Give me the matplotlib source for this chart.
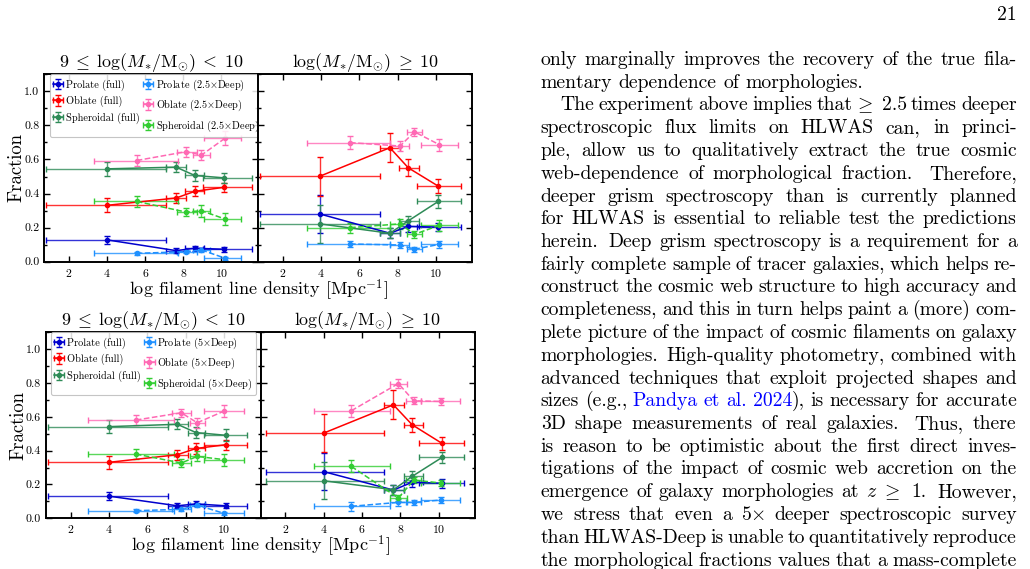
import re
import matplotlib
matplotlib.use('Agg')
import matplotlib.pyplot as plt
from matplotlib.ticker import MultipleLocator

plt.rcParams.update({
    'font.family': 'cmr10',
    'mathtext.fontset': 'cm',
    'axes.formatter.use_mathtext': True,
    'axes.unicode_minus': False,
})

# ---------------- data ----------------
# top-left : 9 <= log M < 10, 2.5x Deep
tl_x_full = [4.0, 7.62, 8.6, 10.15]
tl_xlo_full = [0.8, 7.1, 8.1, 9.05]
tl_xhi_full = [7.1, 8.15, 9.1, 11.6]
tl_prolate_full = [0.128, 0.065, 0.079, 0.073]
tl_prolate_full_err = [0.025, 0.015, 0.015, 0.015]
tl_oblate_full = [0.331, 0.374, 0.413, 0.437]
tl_oblate_full_err = [0.04, 0.03, 0.03, 0.025]
tl_spher_full = [0.545, 0.555, 0.506, 0.492]
tl_spher_full_err = [0.04, 0.03, 0.03, 0.03]
tl_x_deep = [5.55, 8.15, 8.95, 10.2]
tl_xlo_deep = [3.3, 7.65, 8.5, 9.1]
tl_xhi_deep = [7.7, 8.7, 9.4, 11.0]
tl_prolate_deep = [0.049, 0.059, 0.069, 0.02]
tl_prolate_deep_err = [0.01, 0.01, 0.012, 0.01]
tl_oblate_deep = [0.594, 0.646, 0.626, 0.726]
tl_oblate_deep_err = [0.03, 0.03, 0.03, 0.04]
tl_spher_deep = [0.354, 0.291, 0.299, 0.25]
tl_spher_deep_err = [0.03, 0.025, 0.035, 0.035]

# top-right : log M >= 10, 2.5x Deep
tr_x_full = [3.95, 7.6, 8.56, 10.13]
tr_xlo_full = [0.83, 7.1, 8.1, 9.0]
tr_xhi_full = [7.1, 8.15, 9.1, 11.3]
tr_prolate_full = [0.28, 0.167, 0.207, 0.203]
tr_prolate_full_err = [0.11, 0.03, 0.03, 0.025]
tr_oblate_full = [0.502, 0.669, 0.551, 0.443]
tr_oblate_full_err = [0.115, 0.085, 0.05, 0.04]
tr_spher_full = [0.222, 0.167, 0.24, 0.354]
tr_spher_full_err = [0.11, 0.03, 0.03, 0.04]
tr_x_deep = [5.52, 8.13, 8.88, 10.18]
tr_xlo_deep = [3.27, 7.6, 8.5, 9.2]
tr_xhi_deep = [7.62, 8.6, 9.25, 11.15]
tr_prolate_deep = [0.104, 0.098, 0.073, 0.102]
tr_prolate_deep_err = [0.02, 0.02, 0.015, 0.02]
tr_oblate_deep = [0.699, 0.679, 0.762, 0.687]
tr_oblate_deep_err = [0.04, 0.03, 0.025, 0.035]
tr_spher_deep = [0.2, 0.222, 0.161, 0.213]
tr_spher_deep_err = [0.03, 0.03, 0.02, 0.03]

# bottom-left : 9 <= log M < 10, 5x Deep
bl_x_full = [4.0, 7.56, 8.54, 10.08]
bl_xlo_full = [0.83, 7.08, 8.1, 8.97]
bl_xhi_full = [7.08, 8.1, 9.0, 11.19]
bl_prolate_full = [0.131, 0.074, 0.085, 0.074]
bl_prolate_full_err = [0.025, 0.015, 0.015, 0.015]
bl_oblate_full = [0.331, 0.376, 0.413, 0.435]
bl_oblate_full_err = [0.04, 0.03, 0.03, 0.03]
bl_spher_full = [0.542, 0.556, 0.507, 0.491]
bl_spher_full_err = [0.04, 0.03, 0.03, 0.035]
bl_x_deep = [5.4, 7.77, 8.6, 10.0]
bl_xlo_deep = [2.89, 7.3, 8.2, 8.97]
bl_xhi_deep = [7.39, 8.3, 9.0, 11.02]
bl_prolate_deep = [0.045, 0.053, 0.078, 0.029]
bl_prolate_deep_err = [0.01, 0.01, 0.012, 0.01]
bl_oblate_deep = [0.581, 0.624, 0.565, 0.634]
bl_oblate_deep_err = [0.03, 0.025, 0.03, 0.035]
bl_spher_deep = [0.38, 0.327, 0.366, 0.347]
bl_spher_deep_err = [0.03, 0.025, 0.03, 0.035]

# bottom-right : log M >= 10, 5x Deep
br_x_full = [4.0, 7.64, 8.62, 10.18]
br_xlo_full = [0.97, 7.17, 8.2, 9.0]
br_xhi_full = [7.17, 8.2, 9.2, 11.3]
br_prolate_full = [0.276, 0.167, 0.213, 0.207]
br_prolate_full_err = [0.11, 0.03, 0.03, 0.025]
br_oblate_full = [0.504, 0.671, 0.553, 0.443]
br_oblate_full_err = [0.113, 0.085, 0.04, 0.04]
br_spher_full = [0.222, 0.169, 0.248, 0.36]
br_spher_full_err = [0.11, 0.03, 0.03, 0.035]
br_x_deep = [5.44, 7.9, 8.7, 10.1]
br_xlo_deep = [3.48, 7.46, 8.3, 9.1]
br_xhi_deep = [7.46, 8.33, 9.1, 11.14]
br_prolate_deep = [0.071, 0.094, 0.094, 0.108]
br_prolate_deep_err = [0.025, 0.02, 0.015, 0.02]
br_oblate_deep = [0.636, 0.797, 0.695, 0.691]
br_oblate_deep_err = [0.035, 0.025, 0.02, 0.02]
br_spher_deep = [0.307, 0.12, 0.226, 0.209]
br_spher_deep_err = [0.035, 0.02, 0.02, 0.02]

title_low = r'$9\;\leq\;\log(M_{*}/\mathrm{M}_{\odot})\;<\;10$'
title_high = r'$\log(M_{*}/\mathrm{M}_{\odot})\;\geq\;10$'
xlabel = r'log filament line density [Mpc$^{-1}$]'
ylabel = 'Fraction'
morph_names = ['Prolate', 'Oblate', 'Spheroidal']
col_full = ['#0000CD', '#FF0000', '#2E8B57']
col_deep = ['#1E90FF', '#FF69B4', '#32CD32']

text_lines = [
    "only marginally improves the recovery of the true fila-",
    "mentary dependence of morphologies.",
    "The experiment above implies that $\\!\\geq$ 2.5 times deeper",
    "spectroscopic flux limits on HLWAS can, in princi-",
    "ple, allow us to qualitatively extract the true cosmic",
    "web-dependence of morphological fraction. Therefore,",
    "deeper grism spectroscopy than is currently planned",
    "for HLWAS is essential to reliable test the predictions",
    "herein. Deep grism spectroscopy is a requirement for a",
    "fairly complete sample of tracer galaxies, which helps re-",
    "construct the cosmic web structure to high accuracy and",
    "completeness, and this in turn helps paint a (more) com-",
    "plete picture of the impact of cosmic filaments on galaxy",
    "morphologies. High-quality photometry, combined with",
    "advanced techniques that exploit projected shapes and",
    "sizes (e.g., {Pandya} {et} {al.} {2024}), is necessary for accurate",
    "3D shape measurements of real galaxies. Thus, there",
    "is reason to be optimistic about the first direct inves-",
    "tigations of the impact of cosmic web accretion on the",
    "emergence of galaxy morphologies at $z$ $\\!\\geq$ 1. However,",
    "we stress that even a 5$\\times$ deeper spectroscopic survey",
    "than HLWAS-Deep is unable to quantitatively reproduce",
    "the morphological fractions values that a mass-complete",
]
para_last = {1}
para_first = {2}
page_number = '21'

# ---------------- figure ----------------
W, H = 1030, 569
fig = plt.figure(figsize=(W / 100, H / 100), dpi=100)


def ax_at(x0, x1, ytop, ybot):
    return fig.add_axes([x0 / W, 1 - ybot / H, (x1 - x0) / W, (ybot - ytop) / H])


def draw_panel(ax, xf, xlof, xhif, yf, ef, xd, xlod, xhid, yd, ed, deeplab,
               left=True, legend=False):
    handles = []
    for ys, es, c, nm in zip(yf, ef, col_full, morph_names):
        h = ax.errorbar(xf, ys, yerr=es,
                        xerr=[[a - b for a, b in zip(xf, xlof)],
                              [b - a for a, b in zip(xf, xhif)]],
                        color=c, marker='o', ms=3, lw=1.1, elinewidth=1.0,
                        capsize=2, capthick=1.0, ls='-',
                        label=f'{nm} (full)')
        for art in h[2]:
            art.set_alpha(0.8)
        handles.append(h)
    for ys, es, c, nm in zip(yd, ed, col_deep, morph_names):
        h = ax.errorbar(xd, ys, yerr=es,
                        xerr=[[a - b for a, b in zip(xd, xlod)],
                              [b - a for a, b in zip(xd, xhid)]],
                        color=c, marker='o', ms=3, lw=1.1, elinewidth=1.0,
                        capsize=2, capthick=1.0, ls='--',
                        label=f'{nm} ({deeplab}' + r'$\times$' + 'Deep)')
        for art in h[2]:
            art.set_alpha(0.8)
        handles.append(h)
    ax.set_xlim(0.7, 11.9)
    ax.set_ylim(0, 1.1)
    ax.xaxis.set_major_locator(MultipleLocator(2))
    ax.yaxis.set_major_locator(MultipleLocator(0.2))
    ax.yaxis.set_minor_locator(MultipleLocator(0.1))
    ax.tick_params(which='both', direction='in', top=True, right=True,
                   labelsize=8.5, width=1.0)
    ax.tick_params(which='major', length=4)
    ax.tick_params(which='minor', length=2)
    for sp in ax.spines.values():
        sp.set_linewidth(1.4)
    if left:
        ax.yaxis.set_major_formatter(matplotlib.ticker.FormatStrFormatter('%.1f'))
    else:
        ax.set_yticklabels([])
    if legend:
        leg = ax.legend(handles=handles, ncol=2, loc='upper left',
                        bbox_to_anchor=(0.025, 1.0),
                        fontsize=7.4, handlelength=1.0, handletextpad=0.25,
                        columnspacing=0.35, borderpad=0.3, labelspacing=0.5,
                        borderaxespad=0.0, framealpha=0.85, edgecolor='#bbbbbb')
        leg.get_frame().set_linewidth(0.8)


# top row
a1 = ax_at(44.3, 257.7, 74.3, 261.7)
a2 = ax_at(257.7, 472.3, 74.3, 261.7)
draw_panel(a1, tl_x_full, tl_xlo_full, tl_xhi_full,
           [tl_prolate_full, tl_oblate_full, tl_spher_full],
           [tl_prolate_full_err, tl_oblate_full_err, tl_spher_full_err],
           tl_x_deep, tl_xlo_deep, tl_xhi_deep,
           [tl_prolate_deep, tl_oblate_deep, tl_spher_deep],
           [tl_prolate_deep_err, tl_oblate_deep_err, tl_spher_deep_err],
           '2.5', left=True, legend=True)
draw_panel(a2, tr_x_full, tr_xlo_full, tr_xhi_full,
           [tr_prolate_full, tr_oblate_full, tr_spher_full],
           [tr_prolate_full_err, tr_oblate_full_err, tr_spher_full_err],
           tr_x_deep, tr_xlo_deep, tr_xhi_deep,
           [tr_prolate_deep, tr_oblate_deep, tr_spher_deep],
           [tr_prolate_deep_err, tr_oblate_deep_err, tr_spher_deep_err],
           '2.5', left=False)
# bottom row
a3 = ax_at(45.7, 260.5, 332.3, 518.3)
a4 = ax_at(260.5, 475.0, 332.3, 518.3)
draw_panel(a3, bl_x_full, bl_xlo_full, bl_xhi_full,
           [bl_prolate_full, bl_oblate_full, bl_spher_full],
           [bl_prolate_full_err, bl_oblate_full_err, bl_spher_full_err],
           bl_x_deep, bl_xlo_deep, bl_xhi_deep,
           [bl_prolate_deep, bl_oblate_deep, bl_spher_deep],
           [bl_prolate_deep_err, bl_oblate_deep_err, bl_spher_deep_err],
           '5', left=True, legend=True)
draw_panel(a4, br_x_full, br_xlo_full, br_xhi_full,
           [br_prolate_full, br_oblate_full, br_spher_full],
           [br_prolate_full_err, br_oblate_full_err, br_spher_full_err],
           br_x_deep, br_xlo_deep, br_xhi_deep,
           [br_prolate_deep, br_oblate_deep, br_spher_deep],
           [br_prolate_deep_err, br_oblate_deep_err, br_spher_deep_err],
           '5', left=False)

for ax, t in [(a1, title_low), (a2, title_high), (a3, title_low), (a4, title_high)]:
    ax.set_title(t, fontsize=12.9, pad=4)


def ftext(x, y, s, **kw):
    return fig.text(x / W, 1 - y / H, s, **kw)


ftext(16, 168, ylabel, fontsize=13.5, rotation=90, ha='center', va='center')
ftext(18, 425, ylabel, fontsize=13.5, rotation=90, ha='center', va='center')
ftext(258, 290, xlabel, fontsize=13.0, ha='center', va='center')
ftext(260, 546, xlabel, fontsize=13.0, ha='center', va='center')

# ---------------- page text ----------------
renderer = fig.canvas.get_renderer()
link_color = '#0000FF'
x_left, x_right = 540.7, 1016.7
indent = 19.5
base0, lead = 65.0, 22.75
fs_text = 14.2
em = fs_text * 100 / 72


def parse(line):
    words = []
    for tok in line.split(' '):
        if not tok:
            continue
        segs = []
        for part in re.split(r'(\{[^}]*\})', tok):
            if not part:
                continue
            if part.startswith('{') and part.endswith('}'):
                segs.append((part[1:-1], link_color))
            else:
                segs.append((part, 'black'))
        words.append(segs)
    return words


def seg_width(s, fs):
    t = fig.text(0, 0, s, fontsize=fs)
    w = t.get_window_extent(renderer).width
    t.remove()
    if '\\geq' in s:
        w += 0.22 * fs * 100 / 72
    return w


for i, line in enumerate(text_lines):
    words = parse(line)
    widths = [[seg_width(s, fs_text) for s, c in segs] for segs in words]
    wtot = [sum(w) for w in widths]
    x0 = x_left + (indent if i in para_first else 0)
    nat, stretch = [], []
    for segs in words[:-1]:
        last = ''.join(s for s, c in segs)
        if last.endswith('.') and last not in ('al.',):
            nat.append(0.4444 * em); stretch.append(0.5 * em)
        elif last.endswith(','):
            nat.append(0.3333 * em); stretch.append(0.2083 * em)
        else:
            nat.append(0.3333 * em); stretch.append(0.1667 * em)
    if i in para_last or len(words) < 2:
        gaps = nat
    else:
        excess = (x_right - x0) - sum(wtot) - sum(nat)
        if excess >= 0:
            gaps = [n + excess * s / sum(stretch) for n, s in zip(nat, stretch)]
        else:
            gaps = [n + excess / len(nat) for n in nat]
    yb = base0 + lead * i
    x = x0
    for k, (segs, ws, wt) in enumerate(zip(words, widths, wtot)):
        xx = x
        for (s, c), w in zip(segs, ws):
            ftext(xx, yb, s, fontsize=fs_text, color=c, ha='left', va='baseline')
            xx += w
        if k < len(gaps):
            x += wt + gaps[k]

ftext(x_right, 20, page_number, fontsize=fs_text, ha='right', va='baseline')

fig.savefig('out.png', dpi=100)
